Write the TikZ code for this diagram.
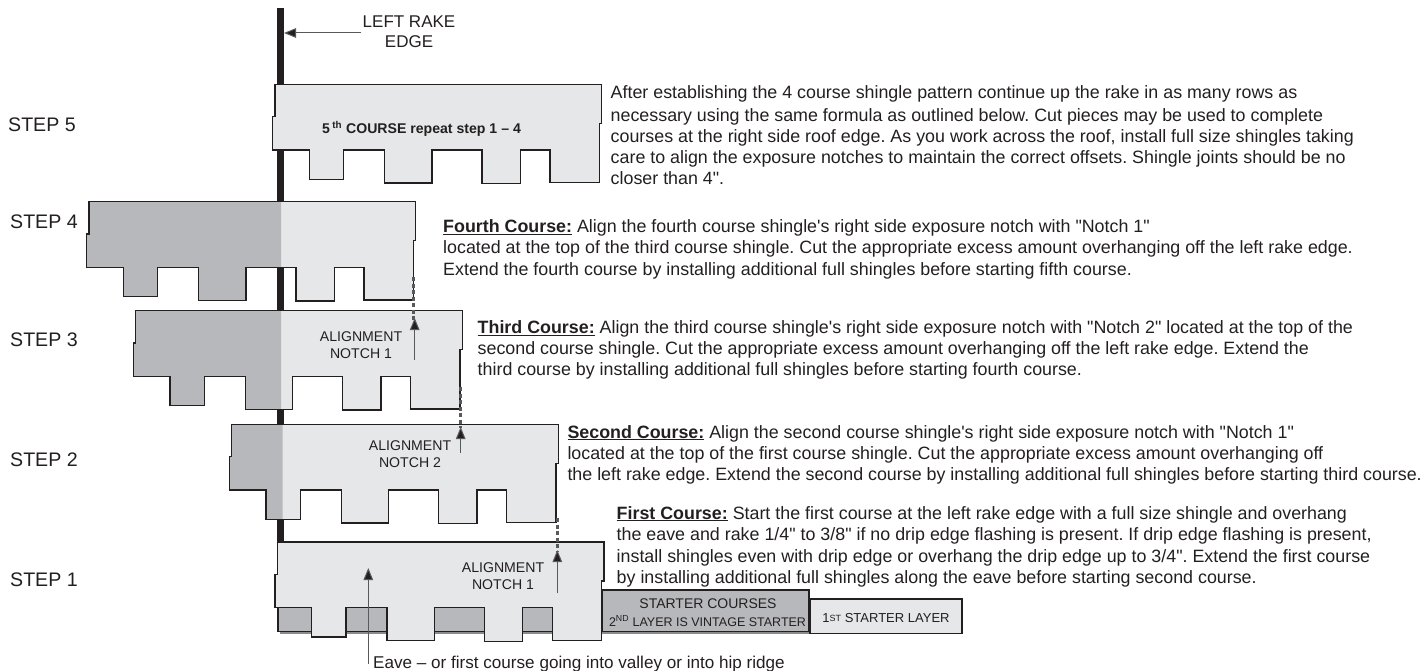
\documentclass[tikz,border=0pt]{standalone}
\usepackage{fontspec}
\usetikzlibrary{arrows.meta}
\newfontfamily\libsans{Liberation Sans}
\definecolor{ink}{HTML}{231F20}
\definecolor{lightsh}{HTML}{E6E7E8}
\definecolor{darksh}{HTML}{B7B8BB}
\definecolor{midgrey}{HTML}{58595B}
\newcommand{\shinglepath}{(0,0) -- (0,32.3) -- (-2.3,32.3) -- (-2.3,65.6) -- (34.3,65.6) -- (34.3,95) -- (68.7,95) -- (68.7,65.6) -- (109.7,65.6) -- (109.7,98.6) -- (157,98.6) -- (157,65.6) -- (207,65.6) -- (207,99.3) -- (245.3,99.3) -- (245.3,65.6) -- (275,65.6) -- (275,98.3) -- (324.3,98.3) -- (324.3,39) -- (326.7,39) -- (326.7,0) -- cycle}
\newcommand{\shingle}[3]{%
  \begin{scope}[shift={(#1,#2)}]
    \fill[lightsh] \shinglepath;
    \begin{scope}
      \clip (-20,-5) rectangle ({#3-#1},110);
      \fill[darksh] \shinglepath;
    \end{scope}
    \draw[shout] \shinglepath;
  \end{scope}}
\tikzset{
  shout/.style={draw=ink,line width=1.3pt,line join=miter},
  steplabel/.style={anchor=base west,inner sep=0pt,text=ink,font=\libsans\fontsize{19.6}{22}\selectfont},
  bodyline/.style={anchor=base west,inner sep=0pt,text=ink,font=\libsans\frenchspacing\fontsize{17.85}{20}\selectfont},
  smalllabel/.style={anchor=base,inner sep=0pt,text=ink,font=\libsans\fontsize{14.1}{16}\selectfont},
  rakelabel/.style={anchor=base,inner sep=0pt,text=ink,font=\libsans\fontsize{17}{20}\selectfont},
  starterlabel/.style={anchor=base,inner sep=0pt,text=ink,font=\libsans\fontsize{14}{15}\selectfont},
  starterlabelb/.style={anchor=base,inner sep=0pt,text=ink,font=\libsans\fontsize{12.5}{15}\selectfont},
  starterlabelc/.style={anchor=base,inner sep=0pt,text=ink,font=\libsans\fontsize{13}{15}\selectfont},
  fifthlabel/.style={anchor=base west,inner sep=0pt,text=ink,font=\libsans\bfseries\fontsize{14.1}{15}\selectfont},
  evlabel/.style={anchor=base west,inner sep=0pt,text=ink,font=\libsans\fontsize{17.1}{18}\selectfont},
  pointer/.style={draw=midgrey,line width=1pt,-{Triangle[length=12pt,width=9.5pt,fill=ink]}},
  guide/.style={draw=midgrey,line width=2.6pt,dash pattern=on 4pt off 2.5pt},
  starterbox/.style={draw=ink,line width=1.6pt},
}
\begin{document}
\begin{tikzpicture}[x=1pt,y=-1pt]
\useasboundingbox (0,0) rectangle (1423,671);
% rake edge
\fill[ink] (277,8) rectangle (284,632);
% starter courses
\fill[midgrey!70] (280,632) rectangle (809,634);
\draw[starterbox,fill=darksh] (278,607) rectangle (809,631.5);
\draw[starterbox,fill=darksh] (602,590) rectangle (809,631.5);
\draw[starterbox,fill=lightsh] (810,599) rectangle (962,633.5);
% shingles
\shingle{275}{84.3}{0}
\shingle{89}{201.7}{281}
\shingle{135.7}{310.7}{281}
\shingle{231.7}{424.3}{282.5}
\shingle{277.3}{542}{0}
% named connector ends
\coordinate (rakeTip) at (284,33);
\coordinate (rakeStart) at (361,33);
\coordinate (g4a) at (413.7,277);
\coordinate (g4b) at (413.7,320);
\coordinate (a4a) at (414.7,360);
\coordinate (a4b) at (414.7,318);
\coordinate (g3a) at (460.7,387);
\coordinate (g3b) at (460.7,428);
\coordinate (a3a) at (460.7,453);
\coordinate (a3b) at (460.7,427);
\coordinate (g2a) at (557.3,518);
\coordinate (g2b) at (557.3,552);
\coordinate (a2a) at (557.3,593);
\coordinate (a2b) at (557.3,550);
\coordinate (eaveStart) at (368.3,664);
\coordinate (eaveTip) at (368.3,568);
% connectors
\draw[pointer] (rakeStart) -- (rakeTip);
\draw[guide] (g4a) -- (g4b);
\draw[guide] (g3a) -- (g3b);
\draw[guide] (g2a) -- (g2b);
\draw[pointer] (a4a) -- (a4b);
\draw[pointer] (a3a) -- (a3b);
\draw[pointer] (a2a) -- (a2b);
\draw[pointer] (eaveStart) -- (eaveTip);
% step labels
\node[steplabel] (s5) at (8,131.7) {STEP 5};
\node[steplabel] (s4) at (10,228) {STEP 4};
\node[steplabel] (s3) at (10,346.7) {STEP 3};
\node[steplabel] (s2) at (10,466.7) {STEP 2};
\node[steplabel] (s1) at (10,586.7) {STEP 1};
% labels
\node[rakelabel] (lr1) at (409,28) {LEFT RAKE};
\node[rakelabel] (lr2) at (409,48) {EDGE};
\node[fifthlabel] (c5) at (322,134) {5\,\textsuperscript{th} COURSE repeat step 1 – 4};
\node[smalllabel] (n3a) at (361,341) {ALIGNMENT};
\node[smalllabel] (n3b) at (361,358) {NOTCH 1};
\node[smalllabel] (n2a) at (410,450) {ALIGNMENT};
\node[smalllabel] (n2b) at (410,467) {NOTCH 2};
\node[smalllabel] (n1a) at (503,572) {ALIGNMENT};
\node[smalllabel] (n1b) at (503,589) {NOTCH 1};
\node[starterlabel] (st1) at (708,608) {STARTER COURSES};
\node[starterlabelb] (st2) at (707.5,626) {2\textsuperscript{ND} LAYER IS VINTAGE STARTER};
\node[starterlabelc] (st3) at (886,622) {1{\fontsize{9}{10}\selectfont\raisebox{0.5pt}{ST}} STARTER LAYER};
\node[evlabel] (eave) at (373,668) {Eave – or first course going into valley or into hip ridge};
% step 5 text
\node[bodyline] (p51) at (610.5,99) {After establishing the 4 course shingle pattern continue up the rake in as many rows as};
\node[bodyline] (p52) at (610.5,121.5) {necessary using the same formula as outlined below. Cut pieces may be used to complete};
\node[bodyline] (p53) at (610.5,142.7) {courses at the right side roof edge. As you work across the roof, install full size shingles taking};
\node[bodyline] (p54) at (610.5,164) {care to align the exposure notches to maintain the correct offsets. Shingle joints should be no};
\node[bodyline] (p55) at (610.5,185) {closer than 4".};
% fourth
\node[bodyline] (p41) at (443,232.7) {\textbf{\underline{Fourth Course:}} Align the fourth course shingle's right side exposure notch with "Notch 1"};
\node[bodyline] (p42) at (443,253.5) {located at the top of the third course shingle. Cut the appropriate excess amount overhanging off the left rake edge.};
\node[bodyline] (p43) at (443,275) {Extend the fourth course by installing additional full shingles before starting fifth course.};
% third
\node[bodyline] (p31) at (477.5,333.3) {\textbf{\underline{Third Course:}} Align the third course shingle's right side exposure notch with "Notch 2" located at the top of the};
\node[bodyline] (p32) at (477.5,354.3) {second course shingle. Cut the appropriate excess amount overhanging off the left rake edge. Extend the};
\node[bodyline] (p33) at (477.5,375.3) {third course by installing additional full shingles before starting fourth course.};
% second
\node[bodyline] (p21) at (567.3,438) {\textbf{\underline{Second Course:}} Align the second course shingle's right side exposure notch with "Notch 1"};
\node[bodyline] (p22) at (567.3,459) {located at the top of the first course shingle. Cut the appropriate excess amount overhanging off};
\node[bodyline] (p23) at (567.3,480) {the left rake edge. Extend the second course by installing additional full shingles before starting third course.};
% first
\node[bodyline] (p11) at (616.5,519) {\textbf{\underline{First Course:}} Start the first course at the left rake edge with a full size shingle and overhang};
\node[bodyline] (p12) at (616.5,540.7) {the eave and rake 1/4" to 3/8" if no drip edge flashing is present. If drip edge flashing is present,};
\node[bodyline] (p13) at (616.5,562) {install shingles even with drip edge or overhang the drip edge up to 3/4". Extend the first course};
\node[bodyline] (p14) at (616.5,583) {by installing additional full shingles along the eave before starting second course.};
\end{tikzpicture}
\end{document}
